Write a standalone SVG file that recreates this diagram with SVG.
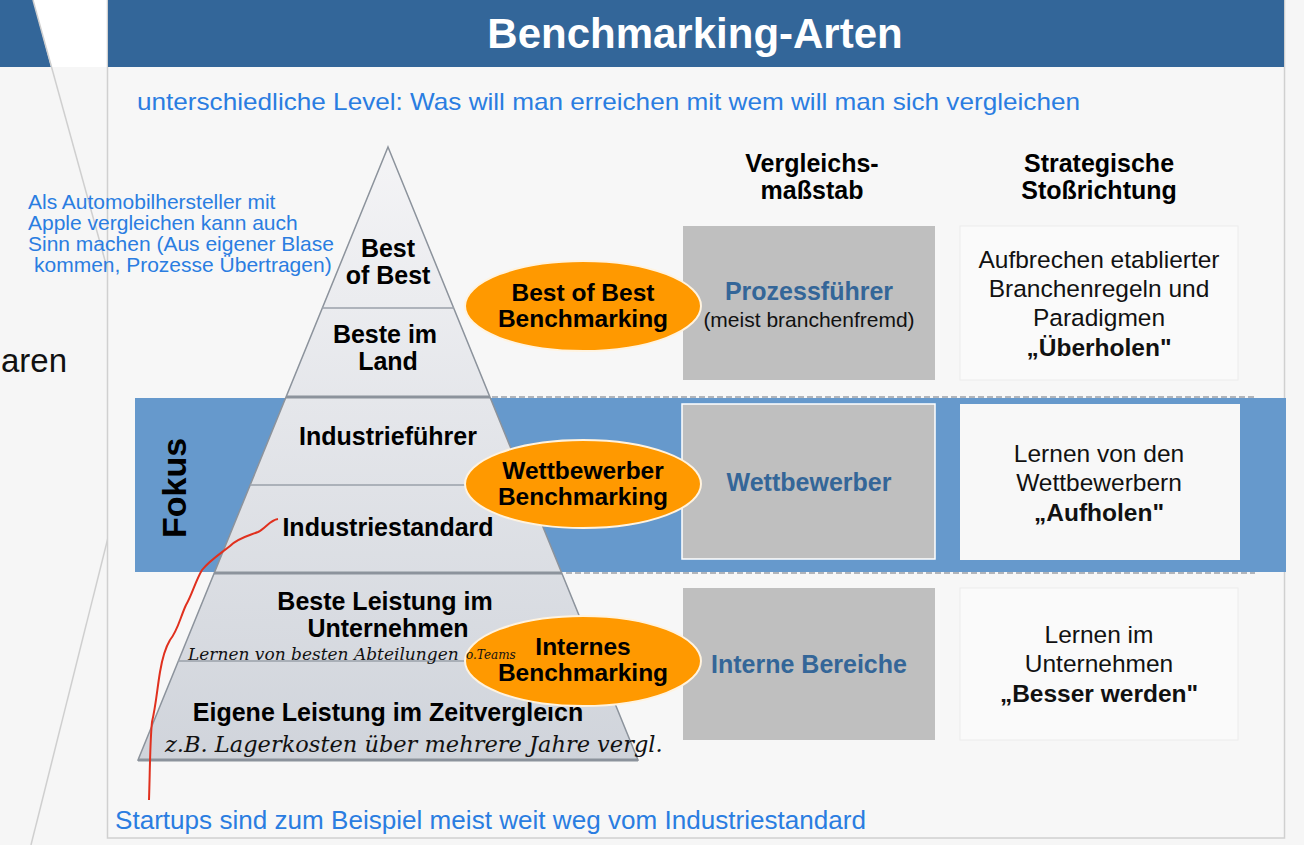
<svg xmlns="http://www.w3.org/2000/svg" width="1304" height="845" viewBox="0 0 1304 845">
<defs>
<style>
.t{font-family:"Liberation Sans",Arial,sans-serif}
.b{font-weight:bold}
.pl{font-family:"Liberation Sans",Arial,sans-serif;font-weight:bold;font-size:25px;fill:#000;text-anchor:middle}
.el{font-family:"Liberation Sans",Arial,sans-serif;font-weight:bold;font-size:24.5px;fill:#000;text-anchor:middle}
.gb{font-family:"Liberation Sans",Arial,sans-serif;font-weight:bold;font-size:25px;fill:#346698;text-anchor:middle}
.st{font-family:"Liberation Sans",Arial,sans-serif;font-size:24.5px;fill:#111;text-anchor:middle}
.hd{font-family:"Liberation Sans",Arial,sans-serif;font-weight:bold;font-size:25px;fill:#000;text-anchor:middle}
.note{font-family:"Liberation Sans",Arial,sans-serif;fill:#2a7de1}
.hw{font-family:"DejaVu Serif","Liberation Serif",serif;font-style:italic;fill:#111}
.ell{fill:#ff9900;stroke:#fff3df;stroke-width:2}
.gray{fill:#bfbfbf}
.wbox{fill:#fafafa;stroke:#ececec;stroke-width:1}
.dash{stroke:#9aa0a8;stroke-width:1.5;stroke-dasharray:6 3;fill:none}
.thick{stroke:#8c939c;stroke-width:3}
.thin{stroke:#9aa1aa;stroke-width:1.5}
</style>
<linearGradient id="pyr" x1="0" y1="0" x2="0" y2="1">
<stop offset="0" stop-color="#f4f4f6"/>
<stop offset="1" stop-color="#d0d4db"/>
</linearGradient>
</defs>

<!-- background -->
<rect x="0" y="0" width="1304" height="845" fill="#f6f6f6"/>
<polygon points="33,0 108,0 108,67 52,67" fill="#ffffff"/>
<polygon points="0,0 33,0 51,67 0,67" fill="#336699"/>
<line x1="33" y1="0" x2="143" y2="398" stroke="#cfcfcf" stroke-width="1.5"/>
<line x1="143" y1="398" x2="31" y2="845" stroke="#cfcfcf" stroke-width="1.5"/>
<text class="t" x="1" y="372" font-size="33" fill="#111">aren</text>

<!-- main slide -->
<rect x="107.5" y="0" width="1177" height="838" fill="#f7f7f7" stroke="#d0d0d0" stroke-width="1.5"/>
<rect x="108" y="0" width="1176" height="67" fill="#336699"/>
<text class="t b" x="695" y="48" font-size="42" fill="#ffffff" text-anchor="middle">Benchmarking-Arten</text>
<text class="note" x="137" y="110" font-size="24" textLength="943" lengthAdjust="spacingAndGlyphs">unterschiedliche Level: Was will man erreichen mit wem will man sich vergleichen</text>

<!-- Fokus band -->
<g id="fokus">
<rect x="135" y="398" width="1151" height="174" fill="#6699cc"/>
<text class="t b" x="0" y="0" font-size="34" fill="#000" text-anchor="middle" transform="translate(186,488) rotate(-90)">Fokus</text>
</g>

<!-- connectors / separators -->
<g id="connectors">
<line class="dash" x1="492" y1="397" x2="1255" y2="397"/>
<line class="dash" x1="566" y1="573" x2="1255" y2="573"/>
</g>

<!-- pyramid -->
<g id="pyramid">
<polygon points="388,147 638,760 138,760" fill="url(#pyr)" stroke="#8c939c" stroke-width="1.5"/>
<line class="thin" x1="322" y1="308" x2="454" y2="308"/>
<line class="thick" x1="286" y1="397" x2="490" y2="397"/>
<line class="thin" x1="250" y1="485" x2="526" y2="485"/>
<line class="thick" x1="214" y1="573" x2="562" y2="573"/>
<line class="thin" x1="178" y1="661" x2="598" y2="661"/>
<line class="thick" x1="138" y1="760" x2="638" y2="760" stroke-width="2"/>
</g>
<g id="lvl-bestofbest"><text class="pl" x="388" y="257">Best</text><text class="pl" x="388" y="284">of Best</text></g>
<g id="lvl-besteimland"><text class="pl" x="385" y="343">Beste im</text><text class="pl" x="388" y="370">Land</text></g>
<g id="lvl-industriefuehrer"><text class="pl" x="388" y="445">Industrieführer</text></g>
<g id="lvl-industriestandard"><text class="pl" x="388" y="536">Industriestandard</text></g>
<g id="lvl-besteleistung"><text class="pl" x="385" y="610">Beste Leistung im</text><text class="pl" x="388" y="637">Unternehmen</text></g>
<g id="lvl-eigene"><text class="pl" x="388" y="721">Eigene Leistung im Zeitvergleicn</text></g>

<!-- column headers -->
<g id="hdr-vergleich"><text class="hd" x="812" y="172">Vergleichs-</text><text class="hd" x="812" y="199">maßstab</text></g>
<g id="hdr-strategie"><text class="hd" x="1099" y="172">Strategische</text><text class="hd" x="1099" y="199">Stoßrichtung</text></g>

<!-- gray boxes -->
<g id="box-prozess"><rect class="gray" x="683" y="226" width="252" height="154"/>
<text class="gb" x="809" y="300">Prozessführer</text>
<text class="t" x="809" y="327" font-size="21" fill="#111" text-anchor="middle">(meist branchenfremd)</text></g>
<g id="box-wettbewerber"><rect class="gray" x="682" y="404" width="253" height="155" stroke="#ffffff" stroke-width="1.5"/>
<text class="gb" x="809" y="491">Wettbewerber</text></g>
<g id="box-intern"><rect class="gray" x="683" y="588" width="252" height="152"/>
<text class="gb" x="809" y="673">Interne Bereiche</text></g>

<!-- strategy boxes -->
<g id="str-ueberholen"><rect class="wbox" x="960" y="226" width="278" height="154"/>
<text class="st" x="1099" y="268">Aufbrechen etablierter</text>
<text class="st" x="1099" y="297">Branchenregeln und</text>
<text class="st" x="1099" y="326">Paradigmen</text>
<text class="st b" x="1099" y="356">„Überholen"</text></g>
<g id="str-aufholen"><rect x="960" y="404" width="280" height="156" fill="#f8f8f8"/>
<text class="st" x="1099" y="462">Lernen von den</text>
<text class="st" x="1099" y="491">Wettbewerbern</text>
<text class="st b" x="1099" y="521">„Aufholen"</text></g>
<g id="str-besser"><rect class="wbox" x="960" y="588" width="278" height="152"/>
<text class="st" x="1099" y="643">Lernen im</text>
<text class="st" x="1099" y="672">Unternehmen</text>
<text class="st b" x="1099" y="702">„Besser werden"</text></g>

<!-- ellipses -->
<g id="ell-bestofbest"><ellipse class="ell" cx="583" cy="306" rx="118" ry="45"/>
<text class="el" x="583" y="301">Best of Best</text><text class="el" x="583" y="327">Benchmarking</text></g>
<g id="ell-wettbewerber"><ellipse class="ell" cx="583" cy="484" rx="118" ry="44"/>
<text class="el" x="583" y="479">Wettbewerber</text><text class="el" x="583" y="505">Benchmarking</text></g>
<g id="ell-intern"><ellipse class="ell" cx="583" cy="661" rx="118" ry="45"/>
<text class="el" x="583" y="655">Internes</text><text class="el" x="583" y="681">Benchmarking</text></g>

<!-- notes -->
<g id="note-apple">
<text class="note" x="28" y="209" font-size="21">Als Automobilhersteller mit</text>
<text class="note" x="28" y="230" font-size="21">Apple vergleichen kann auch</text>
<text class="note" x="28" y="251" font-size="21">Sinn machen (Aus eigener Blase</text>
<text class="note" x="34" y="272" font-size="21">kommen, Prozesse Übertragen)</text>
</g>
<text class="note" x="115" y="829" font-size="25" textLength="751" lengthAdjust="spacingAndGlyphs">Startups sind zum Beispiel meist weit weg vom Industriestandard</text>

<!-- handwriting -->
<text class="hw" x="188" y="660" font-size="17">Lernen von besten Abteilungen</text>
<text class="hw" x="466" y="659" font-size="12">o.Teams</text>
<text class="hw" x="165" y="752" font-size="22.5">z.B. Lagerkosten über mehrere Jahre vergl.</text>
<path d="M278,519 C270,520 266,528 258,532 C248,536 238,538 230,546 C220,554 210,560 202,570 C195,582 192,595 186,605 C180,618 178,630 170,640 C164,650 162,660 160,672 C157,690 156,705 152,722 C150,740 150,770 149,800" fill="none" stroke="#e0301e" stroke-width="2"/>
</svg>
